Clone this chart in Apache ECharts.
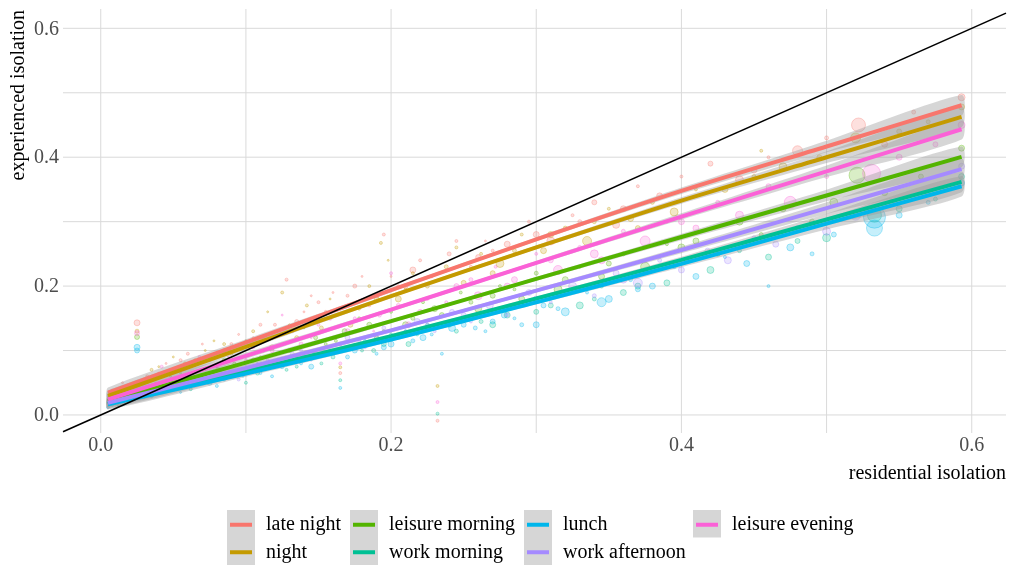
<!DOCTYPE html>
<html><head><meta charset="utf-8">
<script src="https://cdn.jsdelivr.net/npm/echarts@6/dist/echarts.min.js"></script>
<style>html,body{margin:0;padding:0;background:#fff}#c{width:1009px;height:569px}</style>
</head><body><div id="c"></div>
<script>
// ---------- data ----------
const groups = ['late night','night','leisure morning','work morning','lunch','work afternoon','leisure evening'];
const colors = ['#F8766D','#C49A00','#53B400','#00C094','#00B6EB','#A58AFF','#FB61D7'];

// smooth fit curves, sampled at fitX
const fitX = [0.005, 0.1, 0.2, 0.3, 0.4, 0.5, 0.593];
const fitLateNight      = [0.0345, 0.1126, 0.1936, 0.2725, 0.3478, 0.4166, 0.4806];
const fitNight          = [0.0295, 0.1058, 0.1845, 0.2600, 0.3327, 0.3999, 0.4625];
const fitLeisureMorning = [0.0210, 0.0812, 0.1455, 0.2111, 0.2762, 0.3406, 0.4005];
const fitWorkMorning    = [0.0175, 0.0676, 0.1223, 0.1807, 0.2407, 0.3034, 0.3617];
const fitLunch          = [0.0165, 0.0641, 0.1169, 0.1748, 0.2344, 0.2969, 0.3550];
const fitWorkAfternoon  = [0.0190, 0.0728, 0.1312, 0.1930, 0.2560, 0.3210, 0.3814];
const fitLeisureEvening = [0.0243, 0.0918, 0.1634, 0.2361, 0.3079, 0.3781, 0.4434];
// half width of the confidence band at fitX
const seHalf = [0.008, 0.005, 0.003, 0.003, 0.005, 0.009, 0.016];

// observed points: [residential, experienced, size]
const ptsLateNight = [[0.008,0.038,3],[0.015,0.05,2],[0.025,0.143,6],[0.032,0.06,3],[0.045,0.08,2],[0.06,0.095,3],[0.07,0.11,2],[0.085,0.1,4],[0.095,0.125,2],[0.11,0.14,3],[0.118,0.105,5],[0.128,0.21,3],[0.14,0.16,2],[0.15,0.175,3],[0.16,0.19,2],[0.165,0.065,3],[0.175,0.2,4],[0.185,0.17,3],[0.195,0.28,3],[0.2,0.215,2],[0.21,0.2,5],[0.22,0.24,3],[0.232,-0.009,3],[0.24,0.25,4],[0.255,0.23,3],[0.265,0.27,2],[0.28,0.265,6],[0.295,0.3,3],[0.31,0.27,8],[0.325,0.31,3],[0.34,0.33,5],[0.355,0.295,7],[0.37,0.355,3],[0.385,0.34,6],[0.4,0.37,3],[0.42,0.39,5],[0.44,0.365,8],[0.46,0.4,3],[0.48,0.41,10],[0.5,0.43,4],[0.522,0.45,14],[0.54,0.42,6],[0.56,0.47,4],[0.593,0.493,7],
  [0.04,0.065,2],[0.055,0.085,3],[0.075,0.09,2],[0.09,0.11,3],[0.105,0.12,2],[0.12,0.14,3],[0.135,0.145,4],[0.145,0.185,2],[0.155,0.16,3],[0.17,0.185,3],[0.18,0.215,2],[0.19,0.185,4],[0.205,0.2,3],[0.215,0.225,6],[0.228,0.215,3],[0.245,0.27,3],[0.26,0.245,5],[0.27,0.255,3],[0.3,0.28,6],[0.33,0.3,4],[0.36,0.32,6],[0.45,0.38,6]];
const ptsNight = [[0.007,0.035,3],[0.018,0.045,2],[0.025,0.13,4],[0.035,0.07,3],[0.05,0.09,2],[0.065,0.085,3],[0.078,0.115,2],[0.09,0.095,3],[0.105,0.13,3],[0.115,0.16,2],[0.125,0.19,3],[0.135,0.12,4],[0.148,0.15,3],[0.158,0.18,2],[0.165,0.074,3],[0.172,0.14,5],[0.185,0.2,3],[0.193,0.267,3],[0.205,0.18,6],[0.215,0.22,3],[0.232,0.045,3],[0.238,0.23,4],[0.25,0.205,5],[0.262,0.25,3],[0.275,0.235,8],[0.29,0.28,3],[0.305,0.255,6],[0.32,0.29,4],[0.335,0.27,9],[0.35,0.32,3],[0.365,0.305,6],[0.38,0.33,4],[0.395,0.315,8],[0.41,0.35,3],[0.43,0.35,6],[0.45,0.37,4],[0.455,0.41,3],[0.47,0.385,8],[0.495,0.4,5],[0.52,0.43,10],[0.55,0.44,5],[0.57,0.455,4],[0.593,0.478,6],
  [0.04,0.075,2],[0.058,0.08,3],[0.072,0.1,2],[0.085,0.11,3],[0.1,0.115,2],[0.112,0.1,3],[0.13,0.14,2],[0.142,0.17,3],[0.152,0.135,4],[0.178,0.165,3],[0.19,0.18,5],[0.198,0.24,2],[0.21,0.195,3],[0.225,0.2,4],[0.245,0.26,3],[0.27,0.22,5],[0.285,0.255,4],[0.31,0.28,6],[0.34,0.3,4],[0.37,0.29,5]];
const ptsLeisureMorning = [[0.006,0.025,3],[0.014,0.03,2],[0.025,0.121,5],[0.035,0.045,3],[0.048,0.06,2],[0.06,0.05,3],[0.072,0.07,2],[0.085,0.085,4],[0.098,0.065,3],[0.11,0.09,2],[0.118,0.12,3],[0.13,0.1,4],[0.14,0.135,2],[0.155,0.11,3],[0.168,0.13,5],[0.178,0.15,3],[0.19,0.12,4],[0.2,0.16,3],[0.21,0.14,6],[0.222,0.175,3],[0.235,0.155,5],[0.248,0.19,3],[0.26,0.165,7],[0.275,0.2,3],[0.29,0.18,6],[0.3,0.22,4],[0.315,0.195,8],[0.33,0.23,3],[0.345,0.215,6],[0.36,0.25,4],[0.375,0.23,9],[0.39,0.265,3],[0.41,0.27,6],[0.425,0.25,5],[0.44,0.3,7],[0.455,0.28,4],[0.47,0.32,6],[0.49,0.3,5],[0.505,0.33,8],[0.521,0.372,16],[0.54,0.345,6],[0.565,0.37,5],[0.593,0.414,6],
  [0.02,0.035,2],[0.042,0.05,3],[0.055,0.065,2],[0.068,0.06,3],[0.08,0.075,2],[0.092,0.08,3],[0.105,0.085,4],[0.125,0.11,2],[0.135,0.09,3],[0.148,0.12,4],[0.162,0.115,3],[0.185,0.14,5],[0.195,0.13,3],[0.215,0.15,4],[0.23,0.165,6],[0.255,0.175,4],[0.27,0.185,5],[0.285,0.195,3],[0.32,0.21,6],[0.35,0.235,5],[0.4,0.26,7]];
const ptsWorkMorning = [[0.006,0.018,3],[0.012,0.015,2],[0.022,0.03,4],[0.035,0.035,3],[0.05,0.045,2],[0.062,0.04,3],[0.075,0.055,2],[0.088,0.06,4],[0.1,0.05,3],[0.115,0.075,2],[0.128,0.07,3],[0.14,0.09,4],[0.152,0.08,3],[0.165,0.054,3],[0.175,0.11,2],[0.188,0.1,4],[0.2,0.125,3],[0.212,0.11,5],[0.225,0.14,3],[0.232,0.002,3],[0.245,0.13,4],[0.258,0.155,3],[0.27,0.14,6],[0.285,0.17,3],[0.3,0.16,5],[0.315,0.185,3],[0.33,0.17,7],[0.345,0.2,4],[0.36,0.19,6],[0.375,0.22,3],[0.39,0.205,6],[0.405,0.24,4],[0.42,0.225,7],[0.44,0.255,4],[0.46,0.245,6],[0.48,0.27,5],[0.5,0.275,8],[0.533,0.31,14],[0.55,0.32,6],[0.575,0.335,4],[0.593,0.37,6],
  [0.016,0.022,3],[0.028,0.03,2],[0.042,0.04,3],[0.056,0.05,2],[0.068,0.048,3],[0.082,0.06,2],[0.095,0.065,3],[0.108,0.065,4],[0.122,0.08,2],[0.135,0.075,3],[0.147,0.095,3],[0.16,0.09,4],[0.18,0.1,3],[0.195,0.11,5],[0.218,0.125,3],[0.24,0.14,5],[0.262,0.145,4],[0.28,0.155,6],[0.31,0.17,5],[0.34,0.18,4],[0.37,0.2,6]];
const ptsLunch = [[0.005,0.012,3],[0.01,0.02,4],[0.018,0.025,3],[0.025,0.105,6],[0.025,0.1,5],[0.035,0.03,4],[0.045,0.04,3],[0.055,0.035,2],[0.068,0.05,4],[0.08,0.045,3],[0.09,0.06,2],[0.105,0.07,4],[0.118,0.06,3],[0.13,0.085,3],[0.145,0.075,5],[0.158,0.1,3],[0.165,0.042,3],[0.17,0.09,4],[0.182,0.115,3],[0.195,0.105,5],[0.21,0.13,3],[0.222,0.12,6],[0.235,0.095,3],[0.25,0.14,5],[0.265,0.13,3],[0.278,0.155,6],[0.29,0.14,4],[0.305,0.17,5],[0.32,0.16,8],[0.335,0.19,3],[0.35,0.18,7],[0.365,0.21,4],[0.38,0.2,6],[0.395,0.23,4],[0.41,0.215,6],[0.43,0.245,3],[0.445,0.235,6],[0.46,0.2,3],[0.475,0.26,7],[0.49,0.25,4],[0.505,0.28,5],[0.533,0.307,22],[0.533,0.29,16],[0.55,0.31,6],[0.57,0.33,4],[0.593,0.36,6],
  [0.008,0.015,2],[0.015,0.018,5],[0.03,0.028,3],[0.04,0.035,2],[0.05,0.042,4],[0.062,0.045,3],[0.075,0.05,5],[0.085,0.055,3],[0.098,0.06,2],[0.11,0.065,3],[0.125,0.075,4],[0.138,0.08,3],[0.15,0.09,2],[0.175,0.1,5],[0.19,0.095,3],[0.2,0.11,6],[0.215,0.115,4],[0.228,0.125,3],[0.242,0.135,7],[0.258,0.135,4],[0.27,0.145,5],[0.285,0.15,3],[0.3,0.14,6],[0.315,0.165,4],[0.345,0.175,9],[0.37,0.195,5]];
const ptsWorkAfternoon = [[0.006,0.022,3],[0.016,0.028,2],[0.03,0.04,3],[0.045,0.05,2],[0.058,0.045,3],[0.07,0.06,2],[0.082,0.07,4],[0.095,0.055,3],[0.108,0.08,2],[0.12,0.075,3],[0.132,0.095,4],[0.145,0.085,2],[0.158,0.1,3],[0.17,0.12,5],[0.182,0.105,3],[0.195,0.135,4],[0.205,0.12,3],[0.218,0.145,6],[0.23,0.13,3],[0.242,0.16,5],[0.255,0.145,3],[0.268,0.17,7],[0.28,0.155,4],[0.295,0.19,6],[0.31,0.175,3],[0.325,0.2,8],[0.34,0.185,4],[0.355,0.22,6],[0.37,0.205,9],[0.385,0.24,4],[0.4,0.225,6],[0.418,0.255,5],[0.432,0.24,7],[0.45,0.275,4],[0.465,0.265,6],[0.48,0.29,5],[0.5,0.285,8],[0.52,0.31,10],[0.545,0.33,6],[0.57,0.345,5],[0.593,0.386,6],
  [0.022,0.03,2],[0.038,0.04,3],[0.052,0.055,2],[0.065,0.05,3],[0.078,0.065,2],[0.09,0.075,3],[0.102,0.07,2],[0.115,0.085,3],[0.125,0.08,4],[0.138,0.1,3],[0.15,0.095,2],[0.165,0.11,4],[0.178,0.115,3],[0.19,0.12,5],[0.21,0.13,3],[0.225,0.14,4],[0.25,0.155,5],[0.275,0.165,3],[0.3,0.18,6],[0.33,0.195,5],[0.36,0.21,7]];
const ptsLeisureEvening = [[0.006,0.03,3],[0.015,0.04,2],[0.025,0.127,5],[0.03,0.055,2],[0.042,0.075,3],[0.055,0.06,2],[0.068,0.09,3],[0.08,0.075,4],[0.092,0.1,2],[0.1,0.085,3],[0.112,0.12,3],[0.125,0.155,2],[0.138,0.11,4],[0.15,0.14,3],[0.165,0.08,3],[0.17,0.13,5],[0.18,0.17,2],[0.192,0.155,4],[0.2,0.22,3],[0.212,0.14,6],[0.225,0.18,3],[0.232,0.02,3],[0.245,0.2,5],[0.26,0.185,8],[0.272,0.23,3],[0.285,0.21,6],[0.3,0.25,3],[0.315,0.225,9],[0.33,0.26,4],[0.345,0.24,7],[0.36,0.285,4],[0.375,0.27,10],[0.39,0.3,3],[0.41,0.29,6],[0.425,0.33,4],[0.44,0.31,8],[0.46,0.355,5],[0.475,0.33,12],[0.5,0.37,4],[0.531,0.375,18],[0.55,0.4,6],[0.575,0.42,5],[0.593,0.45,7],
  [0.038,0.05,2],[0.05,0.07,3],[0.062,0.08,2],[0.075,0.085,3],[0.088,0.09,2],[0.105,0.105,3],[0.118,0.1,4],[0.132,0.13,3],[0.145,0.12,2],[0.158,0.15,4],[0.175,0.15,3],[0.188,0.13,2],[0.205,0.17,4],[0.22,0.16,5],[0.238,0.175,3],[0.255,0.21,4],[0.28,0.2,6],[0.31,0.24,5],[0.34,0.25,8],[0.4,0.3,6]];

const fits = [fitLateNight, fitNight, fitLeisureMorning, fitWorkMorning, fitLunch, fitWorkAfternoon, fitLeisureEvening];
const points = [ptsLateNight, ptsNight, ptsLeisureMorning, ptsWorkMorning, ptsLunch, ptsWorkAfternoon, ptsLeisureEvening];

// axes
const xRange = [-0.026, 0.6236];
const yRange = [-0.028, 0.630];
const xTicks = [0, 0.2, 0.4, 0.6];
const xTickLabels = ['0.0', '0.2', '0.4', '0.6'];
const yTicks = [0, 0.2, 0.4, 0.6];
const yTickLabels = ['0.0', '0.2', '0.4', '0.6'];
const xMinor = [0.1, 0.3, 0.5];
const yMinor = [0.1, 0.3, 0.5];
const xTitle = 'residential isolation';
const yTitle = 'experienced isolation';

// ---------- chart ----------
const FONT = '"Liberation Serif", "DejaVu Serif", serif';
const chart = echarts.init(document.getElementById('c'), null, {renderer: 'canvas'});

function hexA(hex, a) {
  const n = parseInt(hex.slice(1), 16);
  return 'rgba(' + ((n >> 16) & 255) + ',' + ((n >> 8) & 255) + ',' + (n & 255) + ',' + a + ')';
}

const series = [];
// grid + tick labels
series.push({
  type: 'custom', silent: true, z: 0, data: [0], clip: false,
  renderItem: function (params, api) {
    const ch = [];
    const gs = {stroke: '#dadada', lineWidth: 1};
    xTicks.concat(xMinor).forEach(function (v) {
      const a = api.coord([v, yRange[0]]), b = api.coord([v, yRange[1]]);
      ch.push({type: 'line', shape: {x1: a[0], y1: a[1], x2: b[0], y2: b[1]}, style: gs});
    });
    yTicks.concat(yMinor).forEach(function (v) {
      const a = api.coord([xRange[0], v]), b = api.coord([xRange[1], v]);
      ch.push({type: 'line', shape: {x1: a[0], y1: a[1], x2: b[0], y2: b[1]}, style: gs});
    });
    xTicks.forEach(function (v, i) {
      const a = api.coord([v, yRange[0]]);
      ch.push({type: 'text', x: a[0], y: a[1] + 3, style: {text: xTickLabels[i], font: '20px ' + FONT, fill: '#4d4d4d', align: 'center', verticalAlign: 'top'}});
    });
    yTicks.forEach(function (v, i) {
      const a = api.coord([xRange[0], v]);
      ch.push({type: 'text', x: a[0] - 4, y: a[1] + 1, style: {text: yTickLabels[i], font: '20px ' + FONT, fill: '#4d4d4d', align: 'right', verticalAlign: 'middle'}});
    });
    return {type: 'group', children: ch};
  }
});

// points
groups.forEach(function (g, i) {
  series.push({
    type: 'scatter', name: g + ' obs', data: points[i], z: 1, silent: true,
    symbolSize: function (d) { return d[2]; },
    itemStyle: {color: hexA(colors[i], 0.28), borderColor: hexA(colors[i], 0.4), borderWidth: 1}
  });
});

// ribbons + fit lines, interleaved
groups.forEach(function (g, i) {
  const f = fits[i];
  series.push({
    type: 'custom', silent: true, z: 2, data: [0], clip: true,
    renderItem: function (params, api) {
      const pts = [];
      for (let k = 0; k < fitX.length; k++) pts.push(api.coord([fitX[k], f[k] + seHalf[k]]));
      for (let k = fitX.length - 1; k >= 0; k--) pts.push(api.coord([fitX[k], f[k] - seHalf[k]]));
      return {type: 'polygon', shape: {points: pts, smooth: 0.25}, style: {fill: 'rgba(153,153,153,0.4)'}};
    }
  });
  series.push({
    type: 'line', name: g, z: 2, silent: true, showSymbol: false, smooth: 0.3,
    data: fitX.map(function (x, k) { return [x, f[k]]; }),
    itemStyle: {color: colors[i]},
    lineStyle: {color: colors[i], width: 4}
  });
});

// identity line
series.push({
  type: 'line', name: 'identity', z: 3, silent: true, showSymbol: false,
  data: [[xRange[0], xRange[0]], [xRange[1], xRange[1]]],
  lineStyle: {color: '#000', width: 1.6}
});

function legendCol(names, left) {
  return {
    data: names, orient: 'vertical', left: left, top: 511, height: 120, padding: 0, icon: 'rect',
    itemWidth: 22, itemHeight: 4, itemGap: 0, selectedMode: false,
    textStyle: {fontFamily: FONT, fontSize: 20, color: '#000', padding: [0, 0, 0, 9], lineHeight: 27.5}
  };
}

chart.setOption({
  animation: false,
  backgroundColor: '#fff',
  grid: {left: 63, right: 3, top: 9, bottom: 136},
  xAxis: {type: 'value', min: xRange[0], max: xRange[1], axisLine: {show: false}, axisTick: {show: false}, axisLabel: {show: false}, splitLine: {show: false}},
  yAxis: {type: 'value', min: yRange[0], max: yRange[1], axisLine: {show: false}, axisTick: {show: false}, axisLabel: {show: false}, splitLine: {show: false}},
  legend: [
    legendCol([groups[0], groups[1]], 230),
    legendCol([groups[2], groups[3]], 353),
    legendCol([groups[4], groups[5]], 527),
    legendCol([groups[6]], 696)
  ],
  graphic: [
    {type: 'rect', z: -1, left: 227, top: 510, shape: {width: 28, height: 55}, style: {fill: '#d6d6d6'}},
    {type: 'rect', z: -1, left: 350, top: 510, shape: {width: 28, height: 55}, style: {fill: '#d6d6d6'}},
    {type: 'rect', z: -1, left: 524, top: 510, shape: {width: 28, height: 55}, style: {fill: '#d6d6d6'}},
    {type: 'rect', z: -1, left: 693, top: 510, shape: {width: 28, height: 27.5}, style: {fill: '#d6d6d6'}},
    {type: 'text', right: 3, top: 464, style: {text: xTitle, font: '20px ' + FONT, fill: '#000'}},
    {type: 'text', x: 19, y: 10, rotation: Math.PI / 2, style: {text: yTitle, font: '20px ' + FONT, fill: '#000', align: 'right', verticalAlign: 'middle'}}
  ],
  series: series
});
</script>
</body></html>
